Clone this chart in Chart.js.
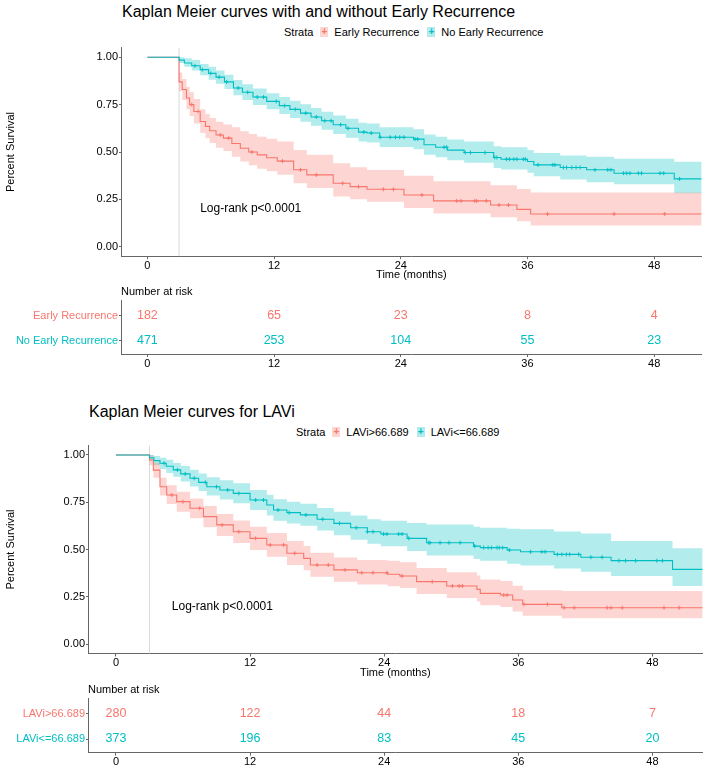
<!DOCTYPE html>
<html>
<head>
<meta charset="utf-8">
<script src="https://cdn.jsdelivr.net/npm/chart.js@4.4.1/dist/chart.umd.min.js"></script>
<style>
  body { margin: 0; background: #fff; width: 709px; height: 767px; position: relative; overflow: hidden;
         font-family: "Liberation Sans", Arial, sans-serif; color: #000; }
  canvas { position: absolute; left: 0; }
  .title { position: absolute; font-size: 16px; line-height: 16px; white-space: nowrap; }
  .legend { position: absolute; font-size: 11px; line-height: 12px; display: flex; align-items: center; white-space: nowrap; }
  .key { display: inline-block; width: 8px; height: 10px; margin: 0 6px 0 7px; font-size: 10px; line-height: 10px;
         text-align: center; font-weight: bold; }
</style>
</head>
<body>
<div class="title" style="left:122px; top:4px;">Kaplan Meier curves with and without Early Recurrence</div>
<div class="legend" id="legend1" style="left:284px; top:26px;"></div>
<canvas id="km1" width="709" height="245" style="top:40px;"></canvas>
<canvas id="risk1" width="709" height="88" style="top:282px;"></canvas>

<div class="title" style="left:89px; top:404px;">Kaplan Meier curves for LAVi</div>
<div class="legend" id="legend2" style="left:296px; top:426px;"></div>
<canvas id="km2" width="709" height="247" style="top:436px;"></canvas>
<canvas id="risk2" width="709" height="91" style="top:676px;"></canvas>

<script>
const timeTicks = [0, 12, 24, 36, 48];
const survTicks = [0, 0.25, 0.5, 0.75, 1];
const landmark = 3;
const pValueText = 'Log-rank p<0.0001';
const pValueAt = { x: 5, y: 0.2 };
const strataColors = ['#F8766D', '#00BFC4'];
const bandColors = ['rgba(248,118,109,0.3)', 'rgba(0,191,196,0.3)'];

// ---- panel 1: early recurrence ----
const recStrata = ['Early Recurrence', 'No Early Recurrence'];
const erTime  = [0, 3, 3.3, 3.7, 4.0, 4.4, 5.0, 5.5, 5.9, 6.5, 7.2, 8.0, 8.8, 9.6, 10.4, 11.3, 12.3, 13.85, 15.1, 17.6, 19.2, 20.8, 24.3, 27.1, 32.5, 35.0, 36.3, 52.5];
const erSurv  = [1, 0.87, 0.83, 0.785, 0.75, 0.714, 0.661, 0.635, 0.612, 0.59, 0.573, 0.545, 0.52, 0.5, 0.485, 0.47, 0.452, 0.406, 0.379, 0.335, 0.317, 0.303, 0.273, 0.242, 0.22, 0.197, 0.173, 0.173];
const erUpper = [1, 0.92, 0.885, 0.845, 0.815, 0.78, 0.725, 0.70, 0.68, 0.66, 0.645, 0.63, 0.61, 0.595, 0.58, 0.57, 0.555, 0.51, 0.485, 0.44, 0.42, 0.405, 0.375, 0.345, 0.325, 0.305, 0.286, 0.286];
const erLower = [1, 0.82, 0.775, 0.725, 0.69, 0.65, 0.60, 0.572, 0.548, 0.522, 0.505, 0.475, 0.45, 0.43, 0.412, 0.398, 0.38, 0.335, 0.31, 0.265, 0.25, 0.237, 0.205, 0.175, 0.155, 0.135, 0.112, 0.112];
const erCensor = [4.2, 4.8, 6.9, 7.7, 9.9, 12.8, 14.5, 16.0, 18.5, 20.0, 22.35, 23.3, 26.0, 29.3, 29.7, 31.0, 31.2, 32.1, 33.3, 34.2, 37.9, 44.2, 49.0];

const nerTime  = [0, 3, 3.5, 4.2, 5.0, 5.8, 6.5, 7.3, 8.15, 9.0, 10.0, 11.3, 12.5, 13.5, 14.5, 15.5, 16.5, 17.6, 18.8, 20.0, 20.8, 22.0, 25.2, 26.2, 27.3, 28.4, 30.0, 32.8, 33.5, 36.0, 36.6, 39.1, 41.6, 44.2, 49.9, 52.5];
const nerSurv  = [1, 0.985, 0.97, 0.955, 0.935, 0.915, 0.895, 0.87, 0.838, 0.815, 0.79, 0.767, 0.745, 0.725, 0.705, 0.685, 0.665, 0.644, 0.625, 0.605, 0.60, 0.578, 0.568, 0.538, 0.525, 0.51, 0.497, 0.471, 0.462, 0.45, 0.432, 0.418, 0.406, 0.388, 0.358, 0.358];
const nerUpper = [1, 1, 0.995, 0.985, 0.965, 0.95, 0.93, 0.908, 0.88, 0.858, 0.835, 0.81, 0.79, 0.77, 0.752, 0.732, 0.713, 0.693, 0.675, 0.655, 0.65, 0.63, 0.62, 0.592, 0.58, 0.566, 0.555, 0.53, 0.525, 0.51, 0.495, 0.482, 0.475, 0.465, 0.449, 0.449];
const nerLower = [1, 0.97, 0.95, 0.93, 0.905, 0.882, 0.86, 0.833, 0.8, 0.775, 0.748, 0.725, 0.70, 0.68, 0.66, 0.638, 0.617, 0.595, 0.575, 0.555, 0.55, 0.527, 0.515, 0.485, 0.472, 0.457, 0.443, 0.415, 0.408, 0.39, 0.372, 0.355, 0.34, 0.33, 0.282, 0.282];
const nerCensor = [4.5, 5.2, 6.0, 6.8, 7.5, 8.6, 9.5, 10.4, 11.0, 12.2, 13.0, 14.0, 15.0, 16.0, 16.8, 17.4, 18.3, 19.0, 20.5, 21.2, 22.04, 23.0, 23.5, 23.9, 24.3, 25.35, 25.6, 28.1, 28.35, 30.1, 30.6, 31.98, 32.9, 33.1, 34.0, 34.3, 34.7, 35.0, 35.6, 35.8, 37.0, 38.4, 38.6, 39.4, 39.7, 40.2, 40.6, 40.98, 42.39, 43.6, 43.9, 45.1, 45.4, 45.7, 46.5, 46.8, 48.55, 48.9, 50.4];

const recRisk = [[182, 65, 23, 8, 4], [471, 253, 104, 55, 23]];

// ---- panel 2: LAVi ----
const laviStrata = ['LAVi>66.689', 'LAVi<=66.689'];
const hiTime  = [0, 3, 3.35, 3.94, 4.54, 5.44, 6.63, 7.83, 9.02, 10.5, 12.0, 13.5, 15.3, 16.8, 17.4, 19.5, 21.6, 24.3, 25.4, 26.9, 29.6, 32.3, 32.6, 34.4, 35.5, 36.4, 39.9, 52.5];
const hiSurv  = [1, 0.973, 0.92, 0.832, 0.788, 0.753, 0.718, 0.674, 0.63, 0.594, 0.559, 0.524, 0.48, 0.453, 0.418, 0.392, 0.377, 0.369, 0.36, 0.33, 0.307, 0.289, 0.268, 0.259, 0.233, 0.21, 0.192, 0.192];
const hiUpper = [1, 1, 0.96, 0.88, 0.84, 0.805, 0.77, 0.73, 0.688, 0.654, 0.62, 0.587, 0.545, 0.518, 0.483, 0.458, 0.445, 0.44, 0.432, 0.402, 0.38, 0.362, 0.342, 0.333, 0.308, 0.285, 0.28, 0.28];
const hiLower = [1, 0.945, 0.88, 0.785, 0.74, 0.70, 0.665, 0.618, 0.572, 0.535, 0.498, 0.462, 0.418, 0.39, 0.356, 0.33, 0.315, 0.305, 0.296, 0.265, 0.243, 0.225, 0.205, 0.196, 0.172, 0.15, 0.136, 0.136];
const hiCensor = [5.0, 6.0, 7.5, 9.5, 11.0, 12.5, 13.8, 15.0, 16.0, 18.0, 19.0, 20.5, 22.0, 23.0, 24.25, 25.6, 28.3, 30.1, 30.7, 31.0, 34.7, 35.0, 36.5, 38.6, 40.1, 41.0, 43.96, 44.3, 45.3, 49.04, 50.4];

const loTime  = [0, 3, 3.4, 3.94, 4.5, 5.13, 5.8, 6.63, 7.4, 8.13, 9.3, 10.5, 12.0, 13.5, 14.1, 15.3, 16.5, 18.0, 19.5, 21.0, 22.5, 23.7, 26.05, 27.8, 32.0, 32.6, 35.0, 36.2, 39.2, 41.6, 44.3, 49.8, 52.5];
const loSurv  = [1, 0.985, 0.97, 0.956, 0.94, 0.921, 0.9, 0.877, 0.855, 0.832, 0.815, 0.797, 0.762, 0.735, 0.709, 0.695, 0.683, 0.66, 0.638, 0.615, 0.594, 0.582, 0.559, 0.536, 0.518, 0.51, 0.497, 0.488, 0.474, 0.459, 0.441, 0.395, 0.395];
const loUpper = [1, 1, 0.995, 0.985, 0.975, 0.958, 0.942, 0.922, 0.902, 0.882, 0.866, 0.85, 0.815, 0.79, 0.766, 0.753, 0.742, 0.72, 0.70, 0.68, 0.66, 0.652, 0.64, 0.632, 0.62, 0.615, 0.61, 0.607, 0.595, 0.585, 0.545, 0.506, 0.506];
const loLower = [1, 0.97, 0.945, 0.925, 0.905, 0.885, 0.86, 0.833, 0.81, 0.785, 0.765, 0.745, 0.709, 0.68, 0.652, 0.637, 0.625, 0.60, 0.576, 0.552, 0.53, 0.517, 0.492, 0.468, 0.45, 0.44, 0.425, 0.415, 0.40, 0.382, 0.36, 0.307, 0.307];
const loCensor = [4.3, 5.5, 6.2, 7.0, 8.0, 9.0, 10.0, 11.0, 12.5, 13.2, 14.5, 15.5, 17.0, 18.5, 20.0, 21.5, 22.5, 23.0, 23.95, 24.25, 25.3, 25.6, 26.2, 28.0, 28.1, 29.0, 29.8, 30.8, 32.1, 32.9, 33.3, 33.6, 34.1, 34.3, 34.6, 35.2, 37.1, 38.1, 38.4, 39.5, 39.9, 40.3, 40.6, 41.4, 42.5, 43.5, 45.0, 45.6, 46.5, 48.4, 48.9];

const laviRisk = [[280, 122, 44, 18, 7], [373, 196, 83, 45, 20]];

Chart.defaults.font.family = '"Liberation Sans", Arial, sans-serif';
Chart.defaults.color = '#000';

// value of the KM step function at time t
function stepAt(times, surv, t) {
    let v = surv[0];
    for (let i = 0; i < times.length; i++) {
        if (times[i] <= t) v = surv[i];
    }
    return v;
}

function fillLegend(id, strata) {
    const el = document.getElementById(id);
    let html = '<span>Strata</span>';
    strata.forEach((s, k) => {
        html += `<span class="key" style="background:${bandColors[k]};color:${strataColors[k]}">+</span><span style="margin-right:1px">${s}</span>`;
    });
    el.innerHTML = html;
}

function timeAxis(height, withTitle) {
    return {
        type: 'linear', min: -2.5, max: 52.5,
        afterBuildTicks: s => { s.ticks = timeTicks.map(v => ({ value: v })); },
        afterFit: s => { s.height = height; },
        ticks: { font: { size: 11 }, padding: 0, maxRotation: 0, autoSkip: false, color: '#000' },
        grid: { drawOnChartArea: false, tickLength: 3, color: '#666' },
        border: { color: '#666', width: 1 },
        title: { display: withTitle, text: 'Time (months)', font: { size: 11 }, color: '#000', padding: { top: 0, bottom: 3 } }
    };
}

function kmChart(id, curves, cfg) {
    const datasets = [];
    curves.forEach((c, k) => {
        const pts = arr => c.time.map((t, i) => ({ x: t, y: arr[i] }));
        datasets.push({ data: pts(c.upper), stepped: true, borderWidth: 0, borderColor: 'transparent', pointRadius: 0, fill: '+1', backgroundColor: bandColors[k], order: 10 });
        datasets.push({ data: pts(c.lower), stepped: true, borderWidth: 0, borderColor: 'transparent', pointRadius: 0, fill: false, order: 10 });
        datasets.push({ data: pts(c.surv), stepped: true, borderColor: strataColors[k], borderWidth: 1.1, pointRadius: 0, fill: false, order: 3 - k });
        datasets.push({
            data: c.censor.map(t => ({ x: t, y: stepAt(c.time, c.surv, t) })),
            showLine: false, pointStyle: 'cross', pointRadius: 2, borderColor: strataColors[k], borderWidth: 1, order: 0
        });
    });

    new Chart(document.getElementById(id), {
        type: 'line',
        data: { datasets },
        options: {
            animation: false, responsive: false, events: [],
            layout: { padding: { top: cfg.padTop, right: cfg.padRight, left: 0, bottom: 0 } },
            plugins: { legend: { display: false }, tooltip: { enabled: false } },
            scales: {
                x: timeAxis(cfg.xHeight, true),
                y: {
                    min: -0.05, max: 1.05,
                    afterBuildTicks: s => { s.ticks = survTicks.map(v => ({ value: v })); },
                    afterFit: s => { s.width = cfg.yWidth; },
                    ticks: { font: { size: 11 }, padding: 1, color: '#000', callback: v => Number(v).toFixed(2) },
                    grid: { drawOnChartArea: false, tickLength: 2, color: '#666' },
                    border: { color: '#666', width: 1 },
                    title: { display: true, text: 'Percent Survival', font: { size: 11 }, color: '#000', padding: { top: 4, bottom: 0 } }
                }
            }
        },
        plugins: [{
            id: 'kmExtras',
            beforeDatasetsDraw(chart) {
                const { ctx, chartArea, scales } = chart;
                const x = scales.x.getPixelForValue(landmark);
                ctx.save();
                ctx.strokeStyle = '#d9d9d9';
                ctx.lineWidth = 1;
                ctx.beginPath();
                ctx.moveTo(x, chartArea.top);
                ctx.lineTo(x, chartArea.bottom);
                ctx.stroke();
                ctx.restore();
            },
            afterDatasetsDraw(chart) {
                const { ctx, scales } = chart;
                ctx.save();
                ctx.font = '12px "Liberation Sans", Arial, sans-serif';
                ctx.fillStyle = '#000';
                ctx.textAlign = 'left';
                ctx.textBaseline = 'middle';
                ctx.fillText(pValueText, scales.x.getPixelForValue(pValueAt.x), scales.y.getPixelForValue(pValueAt.y));
                ctx.restore();
            }
        }]
    });
}

function riskChart(id, strata, risk, cfg) {
    const cells = [];
    risk.forEach((row, i) => row.forEach((n, j) => cells.push({ x: timeTicks[j], y: i })));

    new Chart(document.getElementById(id), {
        type: 'scatter',
        data: { datasets: [{ data: cells, pointRadius: 0 }] },
        options: {
            animation: false, responsive: false, events: [],
            layout: { padding: { top: cfg.padTop, right: cfg.padRight, left: 0, bottom: 0 } },
            plugins: { legend: { display: false }, tooltip: { enabled: false } },
            scales: {
                x: timeAxis(cfg.xHeight, false),
                y: {
                    type: 'linear', reverse: true, min: -0.62, max: 1.54,
                    afterBuildTicks: s => { s.ticks = strata.map((_, i) => ({ value: i })); },
                    afterFit: s => { s.width = cfg.yWidth; },
                    ticks: { font: { size: 11 }, padding: 1, color: c => strataColors[c.index], callback: v => strata[v] },
                    grid: { drawOnChartArea: false, tickLength: 2, color: '#666' },
                    border: { color: '#666', width: 1 }
                }
            }
        },
        plugins: [{
            id: 'riskNumbers',
            afterDraw(chart) {
                const { ctx, chartArea, scales } = chart;
                ctx.save();
                ctx.textBaseline = 'middle';
                ctx.font = '11px "Liberation Sans", Arial, sans-serif';
                ctx.fillStyle = '#000';
                ctx.textAlign = 'left';
                ctx.fillText('Number at risk', chartArea.left, cfg.headY);
                ctx.font = '12.5px "Liberation Sans", Arial, sans-serif';
                ctx.textAlign = 'center';
                risk.forEach((row, i) => {
                    ctx.fillStyle = strataColors[i];
                    row.forEach((n, j) => {
                        ctx.fillText(String(n), scales.x.getPixelForValue(timeTicks[j]), scales.y.getPixelForValue(i));
                    });
                });
                ctx.restore();
            }
        }]
    });
}

fillLegend('legend1', recStrata);
fillLegend('legend2', laviStrata);

kmChart('km1', [
    { time: erTime, surv: erSurv, upper: erUpper, lower: erLower, censor: erCensor },
    { time: nerTime, surv: nerSurv, upper: nerUpper, lower: nerLower, censor: nerCensor }
], { padTop: 7.8, padRight: 7.3, xHeight: 28.8, yWidth: 121 });

riskChart('risk1', recStrata, recRisk, { padTop: 18, padRight: 7.3, xHeight: 16, yWidth: 121, headY: 10 });

kmChart('km2', [
    { time: hiTime, surv: hiSurv, upper: hiUpper, lower: hiLower, censor: hiCensor },
    { time: loTime, surv: loSurv, upper: loUpper, lower: loLower, censor: loCensor }
], { padTop: 9.5, padRight: 6.3, xHeight: 29.5, yWidth: 88 });

riskChart('risk2', laviStrata, laviRisk, { padTop: 22, padRight: 6.3, xHeight: 14.3, yWidth: 88, headY: 14 });
</script>
</body>
</html>
